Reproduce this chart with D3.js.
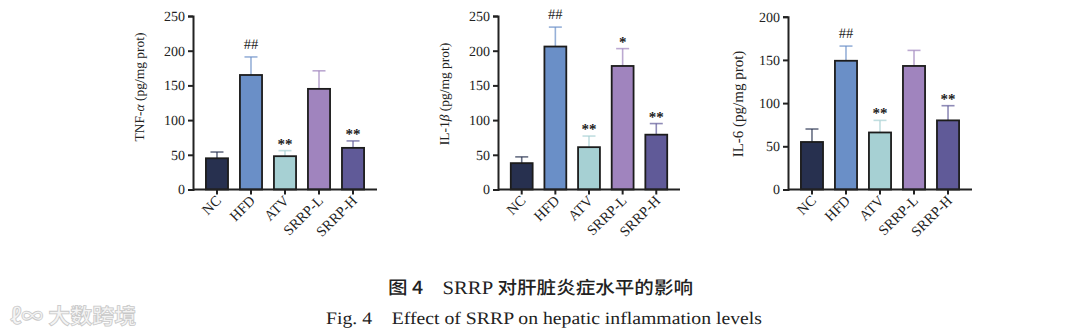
<!DOCTYPE html>
<html><head><meta charset="utf-8">
<script src="https://cdn.jsdelivr.net/npm/d3@7"></script>
<style>body{margin:0;background:#fff}svg{display:block}</style>
</head><body>
<script>
const categories = ["NC","HFD","ATV","SRRP-L","SRRP-H"];
const tnfMean = [45,165,48,145,60];
const tnfErr  = [9,26,8,26,10];
const tnfSig  = ["","##","**","","**"];
const il1Mean = [38,206,61,178,79];
const il1Err  = [9,28,16,25,16];
const il1Sig  = ["","##","**","*","**"];
const il6Mean = [55,149,66,143,80];
const il6Err  = [15,17,14,18,17];
const il6Sig  = ["","##","**","","**"];
const tnfTicks = [0,50,100,150,200,250];
const il1Ticks = [0,50,100,150,200,250];
const il6Ticks = [0,50,100,150,200];
const colors = ["#27304f","#6a8fc7","#a6d0d3","#a084be","#605a98"];

const W=1080,H=332;
const svg=d3.select("body").append("svg").attr("width",W).attr("height",H)
  .attr("text-rendering","geometricPrecision");
const serif="'Liberation Serif','Times New Roman',serif";
const cjk="'Noto Sans CJK SC',sans-serif";

const panels=[
 {x0:193,x1:377,max:250,top:16,ticks:tnfTicks,mean:tnfMean,err:tnfErr,sig:tnfSig,lx:139,ly:87,lfs:13.5,label:["TNF-",{t:"α",i:true}," (pg/mg prot)"]},
 {x0:498,x1:680,max:250,top:16,ticks:il1Ticks,mean:il1Mean,err:il1Err,sig:il1Sig,lx:444,ly:94,lfs:13.5,label:["IL-1",{t:"β",i:true}," (pg/mg prot)"]},
 {x0:788,x1:972,max:200,top:16.7,ticks:il6Ticks,mean:il6Mean,err:il6Err,sig:il6Sig,lx:738,ly:104,lfs:15,label:["IL-6 (pg/mg prot)"]}
];
const base=189.5;

panels.forEach(p=>{
  const g=svg.append("g");
  const x=d3.scaleBand().domain(categories).range([p.x0,p.x1]).paddingInner(0.35).paddingOuter(0.38);
  const y=d3.scaleLinear().domain([0,p.max]).range([base,p.top]);
  categories.forEach((c,i)=>{
    const cx=x(c)+x.bandwidth()/2, yt=y(p.mean[i]+p.err[i]);
    g.append("line").attr("x1",cx).attr("x2",cx).attr("y1",y(p.mean[i])).attr("y2",yt)
      .attr("stroke",colors[i]).attr("stroke-opacity",0.7).attr("stroke-width",1.6);
    g.append("line").attr("x1",cx-6.5).attr("x2",cx+6.5).attr("y1",yt).attr("y2",yt)
      .attr("stroke",colors[i]).attr("stroke-opacity",0.7).attr("stroke-width",1.6);
    if(p.sig[i]) g.append("text").attr("x",cx).attr("y",yt-(p.sig[i].startsWith("#")?8:2))
      .attr("text-anchor","middle").attr("font-family",serif)
      .attr("font-size",p.sig[i].startsWith("#")?14.5:15).attr("font-weight",p.sig[i].startsWith("#")?400:700)
      .attr("fill","#222").text(p.sig[i]);
  });
  g.selectAll("rect.bar").data(categories).join("rect").attr("class","bar")
    .attr("x",c=>x(c)).attr("width",x.bandwidth())
    .attr("y",(c,i)=>y(p.mean[i])).attr("height",(c,i)=>base-y(p.mean[i]))
    .attr("fill",(c,i)=>colors[i]).attr("stroke","#1c1c1c").attr("stroke-width",1.8);
  const ya=g.append("g").attr("transform",`translate(${p.x0},0)`)
    .call(d3.axisLeft(y).tickValues(p.ticks).tickSize(5).tickPadding(3));
  const xa=g.append("g").attr("transform",`translate(0,${base})`)
    .call(d3.axisBottom(x).tickSize(5).tickSizeOuter(0));
  xa.select(".domain").attr("d",`M${p.x0},0H${p.x1}`);
  [ya,xa].forEach(a=>{
    a.select(".domain").attr("stroke","#222").attr("stroke-width",2);
    a.selectAll(".tick line").attr("stroke","#222").attr("stroke-width",2);
    a.selectAll("text").attr("font-family",serif).attr("font-size",14).attr("fill","#222");
  });
  xa.selectAll(".tick text").attr("font-size",14.5).attr("text-anchor","end").attr("dy",0).attr("y",0)
    .attr("transform","translate(5,12) rotate(-45)");
  const t=g.append("text").attr("transform",`translate(${p.lx},${p.ly}) rotate(-90)`)
    .attr("text-anchor","middle").attr("dy","0.35em").attr("font-family",serif)
    .attr("font-size",p.lfs).attr("fill","#222");
  p.label.forEach(s=>{
    if(typeof s==="string") t.append("tspan").text(s);
    else t.append("tspan").attr("font-style","italic").text(s.t);
  });
});

const cn=svg.append("text").attr("x",388).attr("y",294)
  .attr("font-family",cjk).attr("font-weight",500)
  .attr("font-size",18).attr("fill","#222")
  .attr("textLength",305).attr("lengthAdjust","spacingAndGlyphs").attr("xml:space","preserve");
cn.append("tspan").text("图 4　");
cn.append("tspan").attr("font-family",serif).attr("font-weight",400).attr("font-size",19).text("SRRP ");
cn.append("tspan").text("对肝脏炎症水平的影响");
svg.append("text").attr("x",326).attr("y",324)
  .attr("font-family",serif).attr("font-size",17.5).attr("fill","#222")
  .attr("textLength",436).attr("lengthAdjust","spacingAndGlyphs")
  .attr("xml:space","preserve").text("Fig. 4    Effect of SRRP on hepatic inflammation levels");
svg.append("text").attr("x",10).attr("y",324)
  .attr("font-family",cjk).attr("font-size",22).attr("font-weight",700)
  .attr("fill","#f4f4f4").attr("stroke","#c8c8c8").attr("stroke-width",0.8).text("ℓ∞ 大数跨境");
</script>
</body></html>
